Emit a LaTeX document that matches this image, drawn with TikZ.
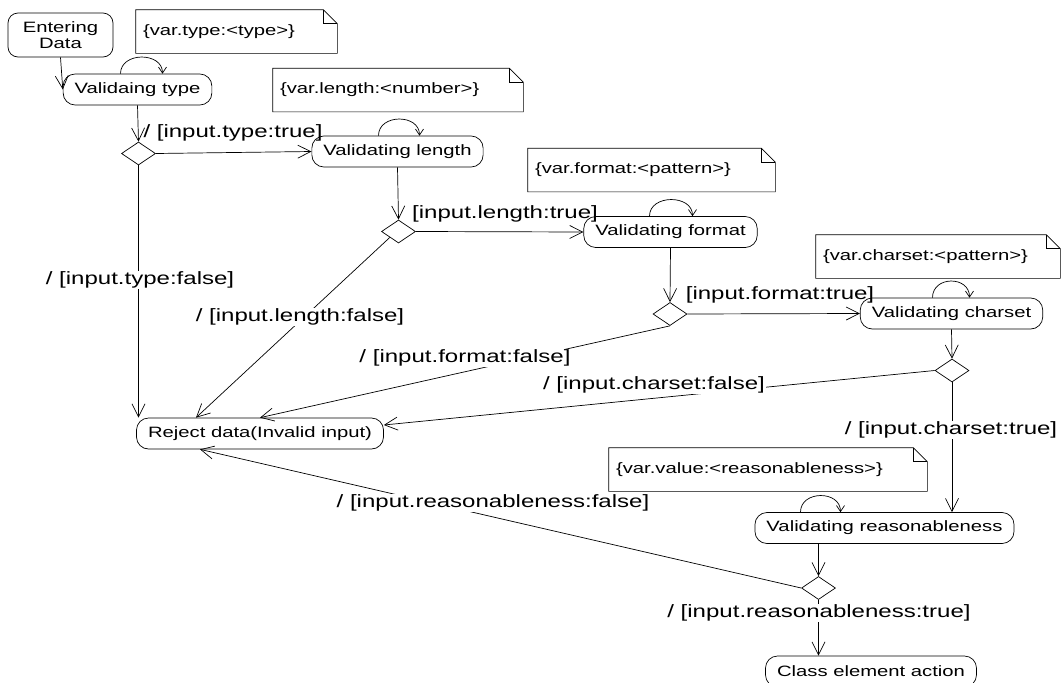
\documentclass[tikz,border=0pt]{standalone}
\usepackage{fontspec}
\setmainfont{Liberation Sans}[FakeStretch=1.35]
\usetikzlibrary{shapes.geometric,arrows.meta}

\tikzset{
  action/.style={draw, rounded corners=12pt, minimum height=31pt, inner xsep=11.5pt, font=\fontsize{15}{16}\selectfont},
  decision/.style={draw, diamond, minimum width=34pt, minimum height=23pt, inner sep=0pt},
  notebox/.style={minimum height=43pt, inner xsep=7pt, inner ysep=0pt, text width=#1, align=left, font=\fontsize{15}{16}\selectfont},
  guard/.style={inner sep=1pt, font=\fontsize{17.8}{19}\selectfont},
  onguard/.style={guard, fill=white},
  flow/.style={-{Straight Barb[length=13pt,width=13pt]}},
  selfloop/.style={-{Straight Barb[length=6pt,width=8pt]}},
}

% note with a folded corner
\newcommand{\foldnote}[1]{%
  \draw (#1.south west) -- (#1.south east) -- ([yshift=-14pt]#1.north east)
    -- ([xshift=-14pt]#1.north east) -- (#1.north west) -- cycle;
  \draw ([xshift=-14pt]#1.north east) |- ([yshift=-14pt]#1.north east);}

\begin{document}
\begin{tikzpicture}[x=1pt, y=-1pt, line width=0.7pt]
\useasboundingbox (0,0) rectangle (1061,683);

% actions
\node[action, rounded corners=10pt, align=center, minimum width=105pt, minimum height=44pt] (enter) at (60.5,35) {Entering\\Data};
\node[action] (vtype) at (137.5,89.5) {Validaing type};
\node[action] (vlength) at (397.5,151.5) {Validating length};
\node[action] (vformat) at (670.5,232) {Validating format};
\node[action] (vcharset) at (951.5,313.5) {Validating charset};
\node[action] (vreason) at (884.5,528) {Validating reasonableness};
\node[action] (reject) at (260,433.5) {Reject data(Invalid input)};
\node[action] (classact) at (871,671.5) {Class element action};

% decisions
\node[decision] (d1) at (138.5,153.5) {};
\node[decision] (d2) at (398.5,231.5) {};
\node[decision] (d3) at (670,314) {};
\node[decision] (d4) at (952,370.5) {};
\node[decision] (d5) at (818.5,588) {};

% notes
\node[notebox=187pt] (ntype) at (236.5,31.5) {\{var.type:<type>\}};
\node[notebox=236pt] (nlength) at (398,90) {\{var.length:<number>\}};
\node[notebox=233pt] (nformat) at (651.5,170) {\{var.format:<pattern>\}};
\node[notebox=230pt] (ncharset) at (938,256.5) {\{var.charset:<pattern>\}};
\node[notebox=304pt] (nvalue) at (768,469.5) {\{var.value:<reasonableness>\}};
\foldnote{ntype}
\foldnote{nlength}
\foldnote{nformat}
\foldnote{ncharset}
\foldnote{nvalue}

% self loops
\draw[selfloop] ([xshift=-17pt]vtype.north) .. controls +(0,-22) and +(0,-22) .. ([xshift=25pt]vtype.north);
\draw[selfloop] ([xshift=-19pt]vlength.north) .. controls +(0,-22) and +(0,-22) .. ([xshift=22pt]vlength.north);
\draw[selfloop] ([xshift=-21pt]vformat.north) .. controls +(0,-22) and +(0,-22) .. ([xshift=22pt]vformat.north);
\draw[selfloop] ([xshift=-19pt]vcharset.north) .. controls +(0,-22) and +(0,-22) .. ([xshift=18pt]vcharset.north);
\draw[selfloop] ([xshift=-84pt]vreason.north) .. controls +(0,-22) and +(0,-22) .. ([xshift=-44pt]vreason.north);

% flows
\draw[flow] (enter.south) -- (vtype.west);
\draw[flow] (vtype.south) -- (d1.north);
\draw[flow] (d1.east) -- (vlength.west);
\draw[flow] (d1.south) -- (d1.south |- reject.north);
\draw[flow] (vlength.south) -- (d2.north);
\draw[flow] (d2.east) -- (vformat.west);
\draw[flow] (d2.south west) -- ([xshift=-64pt]reject.north);
\draw[flow] (vformat.south) -- (d3.north);
\draw[flow] (d3.east) -- (vcharset.west);
\draw[flow] (d3.south) -- (reject.north);
\draw[flow] (vcharset.south) -- (d4.north);
\draw[flow] (d4.west) -- ([yshift=8.5pt]reject.east);
\draw[flow] (d4.south) -- (d4.south |- vreason.north);
\draw[flow] (d5.north |- vreason.south) -- (d5.north);
\draw[flow] (d5.west) -- ([xshift=-60pt]reject.south);
\draw[flow] (d5.south) -- (d5.south |- classact.north);

% guards
\node[guard] (gtypet) at (233,133) {/ [input.type:true]};
\node[guard] (glengtht) at (505,214) {[input.length:true]};
\node[guard] (gformatt) at (780,295) {[input.format:true]};
\node[onguard] (gtypef) at (140,280) {/ [input.type:false]};
\node[onguard] (glengthf) at (300,317) {/ [input.length:false]};
\node[onguard] (gformatf) at (465,358) {/ [input.format:false]};
\node[onguard] (gcharsetf) at (654,385) {/ [input.charset:false]};
\node[onguard] (greasonf) at (493,503) {/ [input.reasonableness:false]};
\node[onguard] (gcharsett) at (951,430) {/ [input.charset:true]};
\node[onguard] (greasont) at (819,613) {/ [input.reasonableness:true]};
\end{tikzpicture}
\end{document}
